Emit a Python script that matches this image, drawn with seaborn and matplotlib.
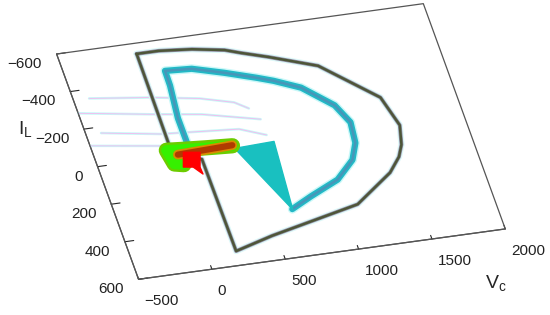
import numpy as np
import matplotlib
matplotlib.use("Agg")
import matplotlib.pyplot as plt
import seaborn as sns
from mpl_toolkits.mplot3d import proj3d
from mpl_toolkits.mplot3d.art3d import Poly3DCollection

# axis ranges and ticks
vc_lim = (-500, 2000)
il_lim = (600, -600)          # I_L axis runs downwards
vc_ticks = [-500, 0, 500, 1000, 1500, 2000]
il_ticks = [-600, -400, -200, 0, 200, 400, 600]

# outer (dark) trajectory, Vc / IL
outer_vc = [20, 170, 390, 600, 700, 870, 1170, 1500, 1560, 1525, 1480, 1385, 1100, 470, 200, 195, 15, 20]
outer_il = [-545, -545, -530, -503, -477, -437, -358, -154, 0, 100, 160, 234, 372, 472, 525, 35, -5, -545]

# inner (cyan) trajectory
inner_vc = [137, 136, 162, 164, 342, 544, 743, 845, 1008, 1184, 1247, 1230, 1171, 1028, 816, 664]
inner_il = [-47, -190, -361, -439, -431, -388, -340, -313, -259, -146, -49, 59, 143, 233, 299, 351]

# fan of trajectories going back to the operating point
wedge_vc = [431, 703, 664]
wedge_il = [0, -8, 351]

# operating point blob
green_vc = [65, 5, -15, 100, 250, 425]
green_il = [50, 40, -35, -28, -20, -12]
brown_vc = [50, 200, 320, 425]
brown_il = [-5, -9, -12, -15]
red_vc = [89, 197, 162, 165, 118, 54]
red_il = [-16, -4, 71, 108, 66, 59]

# faint transient traces
arc1_vc = [-394, 6, 323, 538, 620]
arc1_il = [-352, -314, -275, -231, -190]
arc2_vc = [-499, -34, 299, 671]
arc2_il = [-284, -229, -193, -127]
arc3_vc = [-398, -17, 507, 672]
arc3_il = [-168, -122, -92, -43]
arc4_vc = [-493, -13]
arc4_il = [-110, -58]

sns.set_style("white")
plt.rcParams['font.family'] = ['Liberation Sans', 'DejaVu Sans']
plt.rcParams['mathtext.fontset'] = 'custom'
plt.rcParams['mathtext.rm'] = 'Liberation Sans'

fig = plt.figure(figsize=(5.5, 3.15), dpi=100)
ax = fig.add_axes([-0.0027, -0.341, 1.0, 1.746], projection='3d', proj_type='ortho')
ax.computed_zorder = False
ax.view_init(elev=37.9, azim=-102.6)
ax.set_box_aspect((1, 1, 0.01), zoom=0.938)
ax.set_xlim(*vc_lim, view_margin=0)
ax.set_ylim(*il_lim, view_margin=0)
ax.set_zlim(0, 1, view_margin=0)


def line(vc, il, **kw):
    ax.plot(vc, il, np.zeros(len(vc)), **kw)


def patch(vc, il, color, z):
    poly = Poly3DCollection([list(zip(vc, il, np.zeros(len(vc))))],
                            facecolor=color, edgecolor=color, lw=1, zorder=z)
    ax.add_collection3d(poly)


def label_at(vc, il, s, **kw):
    # project the 3D anchor and put a plain 2D text there
    x2, y2, _ = proj3d.proj_transform(vc, il, 0, ax.get_proj())
    ax.text2D(x2, y2, s, transform=ax.transData, fontsize=11, color='#222222', **kw)


# faint traces
for vc, il in [(arc1_vc, arc1_il), (arc2_vc, arc2_il), (arc3_vc, arc3_il), (arc4_vc, arc4_il)]:
    line(vc, il, color='#c8f8f8', lw=1.8, zorder=1)
    line(vc, il, color='#f4b8ee', lw=0.6, zorder=1)

# outer trajectory
line(outer_vc, outer_il, color='#dcf8f8', lw=4.5, zorder=2, solid_joinstyle='round')
line(outer_vc, outer_il, color='#948ea6', lw=2.8, zorder=2, solid_joinstyle='round')
line(outer_vc, outer_il, color='#4d5638', lw=1.8, zorder=2, solid_joinstyle='round')

# inner trajectory and the fan back to the operating point
line(inner_vc, inner_il, color='#c8f8f8', lw=6.5, zorder=3, solid_joinstyle='round')
line(inner_vc, inner_il, color='#22b8c6', lw=4.5, zorder=3, solid_joinstyle='round')
line(inner_vc, inner_il, color='#4796b8', lw=1.8, zorder=3, solid_joinstyle='round')
patch(wedge_vc, wedge_il, '#19c0c0', 3)

# operating point
line(green_vc, green_il, color='#6ccc00', lw=11, zorder=4, solid_capstyle='round', solid_joinstyle='round')
line(green_vc, green_il, color='#36f000', lw=7.5, zorder=4, solid_capstyle='round', solid_joinstyle='round')
line(brown_vc, brown_il, color='#d98a00', lw=7, zorder=5)
line(brown_vc, brown_il, color='#b03a00', lw=4.5, zorder=5)
patch(red_vc, red_il, '#ff0000', 6)

# frame of the Vc-IL plane
line([vc_lim[0], vc_lim[1], vc_lim[1], vc_lim[0], vc_lim[0]],
     [il_lim[0], il_lim[0], il_lim[1], il_lim[1], il_lim[0]],
     color='#555555', lw=0.9, zorder=7)

ax.set_xticks(vc_ticks)
ax.set_yticks(il_ticks)
ax.set_zticks([])
ax.grid(False)
for axis in (ax.xaxis, ax.yaxis, ax.zaxis):
    axis.set_pane_color((1, 1, 1, 0))
    axis.line.set_color('#555555')
    axis.line.set_linewidth(0.9)
    axis.set_tick_params(labelbottom=False)
    axis.label.set_visible(False)
    axis.offsetText.set_visible(False)
    axis._axinfo['tick']['inward_factor'] = 0.0
    axis._axinfo['tick']['color'] = '#555555'
ax.xaxis._axinfo['tick']['outward_factor'] = 0.2
ax.yaxis._axinfo['tick']['outward_factor'] = 0.3
ax.zaxis.line.set_color((1, 1, 1, 0))
for t in (ax.title, ax._left_title, ax._right_title):
    t.set_visible(False)

# tick labels sit off the plane edges, as in the original
for v in vc_ticks:
    label_at(v - 13, il_lim[0] + 114, f'{v}'.replace('-', '\u2212'), ha='left', va='center')
for i in il_ticks:
    label_at(vc_lim[0] - 119, i + 40, f'{i}'.replace('-', '\u2212'), ha='right', va='center')

fig.text(0.902, 0.098, 'V$_\\mathregular{c}$', fontsize=14, ha='center', va='center')
fig.text(0.047, 0.587, 'I$_\\mathregular{L}$', fontsize=14, ha='center', va='center')

fig.savefig('out.png', dpi=100)
